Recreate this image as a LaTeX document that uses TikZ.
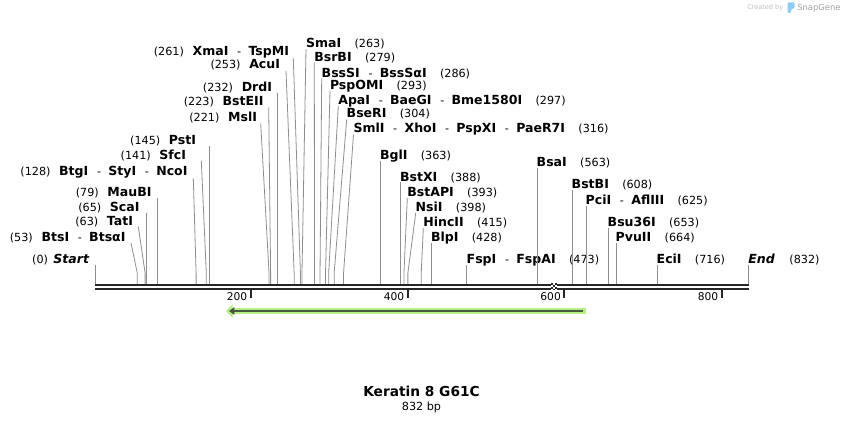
\documentclass[tikz,border=0pt]{standalone}
\usepackage{fontspec}
\setmainfont{DejaVu Sans}
\usetikzlibrary{arrows.meta}
\definecolor{sitegray}{HTML}{8E8E8E}
\definecolor{backbone}{HTML}{262626}
\definecolor{featgreen}{HTML}{B4F084}
\definecolor{featdark}{HTML}{48583F}
\definecolor{credgray}{HTML}{BDBDBD}
\definecolor{logoblue}{HTML}{8FCDF2}
\newcommand{\enz}[1]{{\fontsize{9.4pt}{11pt}\selectfont\bfseries #1}}
\newcommand{\enzsep}{\hspace{6.5pt}-\hspace{5.5pt}}
\tikzset{	x=0.75pt, y=-0.75pt,
	siteline/.style={
		draw=sitegray,
		line width=0.6pt},
	sitelab/.style={
		inner sep=0pt,
		outer sep=0pt,
		font=\fontsize{8.4pt}{10pt}\selectfont},
	siteleft/.style={sitelab, anchor=base east},
	siteright/.style={sitelab, anchor=base west},
	bbline/.style={draw=backbone, line width=1.5pt},
	ticklab/.style={sitelab, font=\fontsize{8pt}{10pt}\selectfont, anchor=base east}
}
\begin{document}
\begin{tikzpicture}
	\fill[white] (0,0) rectangle (844,423);
	\useasboundingbox (0,0) rectangle (844,423);
	% cut sites on the backbone and their bends
	\foreach \b in {0,53,63,65,79,128,141,145,221,223,232,253,261,263,279,286,293,297,304,316,363,388,393,398,415,428,473,563,608,625,653,664,716,832}{
		\coordinate (s\b) at ({95.7+0.7844*\b},284);
		\coordinate (k\b) at ({95.7+0.7844*\b},273);
	}
	% labels left of their line
	\node[siteleft] (l0) at (89,263.8) {(0)\hspace{4pt}\enz{\itshape Start}};
	\node[siteleft] (l53) at (125.5,241.2) {(53)\hspace{6.5pt}\enz{BtsI}\enzsep\enz{BtsαI}};
	\node[siteleft] (l63) at (133,225.5) {(63)\hspace{6.5pt}\enz{TatI}};
	\node[siteleft] (l65) at (139.5,211.8) {(65)\hspace{6.5pt}\enz{ScaI}};
	\node[siteleft] (l79) at (151.5,196.8) {(79)\hspace{6.5pt}\enz{MauBI}};
	\node[siteleft] (l128) at (187.5,175.8) {(128)\hspace{6.5pt}\enz{BtgI}\enzsep\enz{StyI}\enzsep\enz{NcoI}};
	\node[siteleft] (l141) at (186,159.2) {(141)\hspace{6.5pt}\enz{SfcI}};
	\node[siteleft] (l145) at (196,144.5) {(145)\hspace{6.5pt}\enz{PstI}};
	\node[siteleft] (l221) at (257,121.8) {(221)\hspace{6.5pt}\enz{MslI}};
	\node[siteleft] (l223) at (263.5,105.5) {(223)\hspace{6.5pt}\enz{BstEII}};
	\node[siteleft] (l232) at (272,91.8) {(232)\hspace{6.5pt}\enz{DrdI}};
	\node[siteleft] (l253) at (280,68.5) {(253)\hspace{6.5pt}\enz{AcuI}};
	\node[siteleft] (l261) at (289,55.2) {(261)\hspace{6.5pt}\enz{XmaI}\enzsep\enz{TspMI}};
	% labels right of their line
	\node[siteright] (r263) at (306,47.8) {\enz{SmaI}\hspace{10pt}(263)};
	\node[siteright] (r279) at (314.3,61.2) {\enz{BsrBI}\hspace{10pt}(279)};
	\node[siteright] (r286) at (321.7,77.2) {\enz{BssSI}\enzsep\enz{BssSαI}\hspace{10pt}(286)};
	\node[siteright] (r293) at (330,89.5) {\enz{PspOMI}\hspace{10pt}(293)};
	\node[siteright] (r297) at (338.3,104.5) {\enz{ApaI}\enzsep\enz{BaeGI}\enzsep\enz{Bme1580I}\hspace{10pt}(297)};
	\node[siteright] (r304) at (346.7,117.8) {\enz{BseRI}\hspace{10pt}(304)};
	\node[siteright] (r316) at (353.5,132.8) {\enz{SmlI}\enzsep\enz{XhoI}\enzsep\enz{PspXI}\enzsep\enz{PaeR7I}\hspace{10pt}(316)};
	\node[siteright] (r363) at (380,159.5) {\enz{BglI}\hspace{10pt}(363)};
	\node[siteright] (r388) at (400,181.2) {\enz{BstXI}\hspace{10pt}(388)};
	\node[siteright] (r393) at (407.3,196.2) {\enz{BstAPI}\hspace{10pt}(393)};
	\node[siteright] (r398) at (415.7,211.2) {\enz{NsiI}\hspace{10pt}(398)};
	\node[siteright] (r415) at (423.3,226.2) {\enz{HincII}\hspace{10pt}(415)};
	\node[siteright] (r428) at (431,241.2) {\enz{BlpI}\hspace{10pt}(428)};
	\node[siteright] (r473) at (466.7,263.8) {\enz{FspI}\enzsep\enz{FspAI}\hspace{10pt}(473)};
	\node[siteright] (r563) at (536.7,166.8) {\enz{BsaI}\hspace{10pt}(563)};
	\node[siteright] (r608) at (571.7,188.8) {\enz{BstBI}\hspace{10pt}(608)};
	\node[siteright] (r625) at (585.7,204.5) {\enz{PciI}\enzsep\enz{AflIII}\hspace{10pt}(625)};
	\node[siteright] (r653) at (607.7,226.2) {\enz{Bsu36I}\hspace{10pt}(653)};
	\node[siteright] (r664) at (615.7,241.2) {\enz{PvuII}\hspace{10pt}(664)};
	\node[siteright] (r716) at (656.7,263.8) {\enz{EciI}\hspace{10pt}(716)};
	\node[siteright] (r832) at (748.3,263.8) {\enz{\itshape End}\hspace{11pt}(832)};
	% free ends of the site lines
	\coordinate (t0) at (s0 |- 0,265);
	\coordinate (t53) at (131,243);
	\coordinate (t63) at (138.3,226.7);
	\coordinate (t65) at (s65 |- 0,212.7);
	\coordinate (t79) at (s79 |- 0,198);
	\coordinate (t128) at (193.3,178.3);
	\coordinate (t141) at (201.3,160.5);
	\coordinate (t145) at (s145 |- 0,146);
	\coordinate (t221) at (260.7,123.5);
	\coordinate (t223) at (268.7,107.3);
	\coordinate (t232) at (s232 |- 0,93);
	\coordinate (t253) at (286,70.7);
	\coordinate (t261) at (293.3,58.3);
	\coordinate (t263) at (306,49);
	\coordinate (t279) at (314.3,62.5);
	\coordinate (t286) at (321.7,78.5);
	\coordinate (t293) at (330,91);
	\coordinate (t297) at (338.3,106);
	\coordinate (t304) at (346.7,119.5);
	\coordinate (t316) at (353.5,134.5);
	\coordinate (t363) at (s363 |- 0,160.7);
	\coordinate (t388) at (s388 |- 0,182.5);
	\coordinate (t393) at (407.3,198);
	\coordinate (t398) at (415.7,213);
	\coordinate (t415) at (423.3,228);
	\coordinate (t428) at (s428 |- 0,243);
	\coordinate (t473) at (s473 |- 0,265);
	\coordinate (t563) at (s563 |- 0,168);
	\coordinate (t608) at (s608 |- 0,190);
	\coordinate (t625) at (s625 |- 0,206);
	\coordinate (t653) at (s653 |- 0,228);
	\coordinate (t664) at (s664 |- 0,243);
	\coordinate (t716) at (s716 |- 0,265);
	\coordinate (t832) at (s832 |- 0,265);
	\foreach \b in {0,53,63,65,79,128,141,145,221,223,232,253,261,263,279,286,293,297,304,316,363,388,393,398,415,428,473,563,608,625,653,664,716,832}
		\draw[siteline] (s\b) -- (k\b) -- (t\b);
	% backbone
	\coordinate (bbtl) at (95,285);
	\coordinate (bbtr) at (748.8,285);
	\coordinate (bbbl) at (95,289);
	\coordinate (bbbr) at (748.8,289);
	\draw[bbline] (bbtl) -- (bbtr);
	\draw[bbline] (bbbl) -- (bbbr);
	% mutation mark
	\fill[white] (550.5,283.5) rectangle (556.5,290.5);
	\foreach \i/\j in {0/0,2/0,1/1,0/2,2/2,1/3}
		\fill[backbone] ({550.5+2*\i},{283.5+1.75*\j}) rectangle ++(2,1.75);
	% ruler
	\foreach \t/\x in {200/250.7,400/407.7,600/564.3,800/721.7}{
		\draw[backbone, line width=1.5pt] (\x,290) -- (\x,298);
		\node[ticklab] (tick\t) at (\x-3.5,300.5) {\t};
	}
	% feature arrow
	\coordinate (fgr) at (586,311);
	\coordinate (fgl) at (226,311);
	\coordinate (fdr) at (583,311);
	\coordinate (fdl) at (229,311);
	\draw[featgreen, line width=3.9pt, -{Triangle[length=5pt,width=10pt]}] (fgr) -- (fgl);
	\draw[featdark, line width=1.5pt, -{Triangle[length=4pt,width=5.5pt]}] (fdr) -- (fdl);
	% title
	\node[inner sep=0pt, anchor=base, font=\fontsize{10.3pt}{12pt}\selectfont\bfseries] (title) at (421.5,396.5) {Keratin 8 G61C};
	\node[inner sep=0pt, anchor=base, font=\fontsize{8.4pt}{10pt}\selectfont] (size) at (421.5,410.5) {832 bp};
	% credit
	\node[inner sep=0pt, anchor=base west, text=credgray, font=\fontsize{4.9pt}{6pt}\selectfont] (cred) at (747,10) {Created by};
	\fill[logoblue, rounded corners=0.8pt] (787.5,2.5) -- (794.5,2.5) -- (794.5,8) -- (791,9.5) -- (791,13) -- (787.5,13) -- cycle;
	\node[inner sep=0pt, anchor=base west, text=credgray!85!black, font=\fontsize{6.3pt}{8pt}\selectfont] (snap) at (797,10.5) {SnapGene};
\end{tikzpicture}
\end{document}
